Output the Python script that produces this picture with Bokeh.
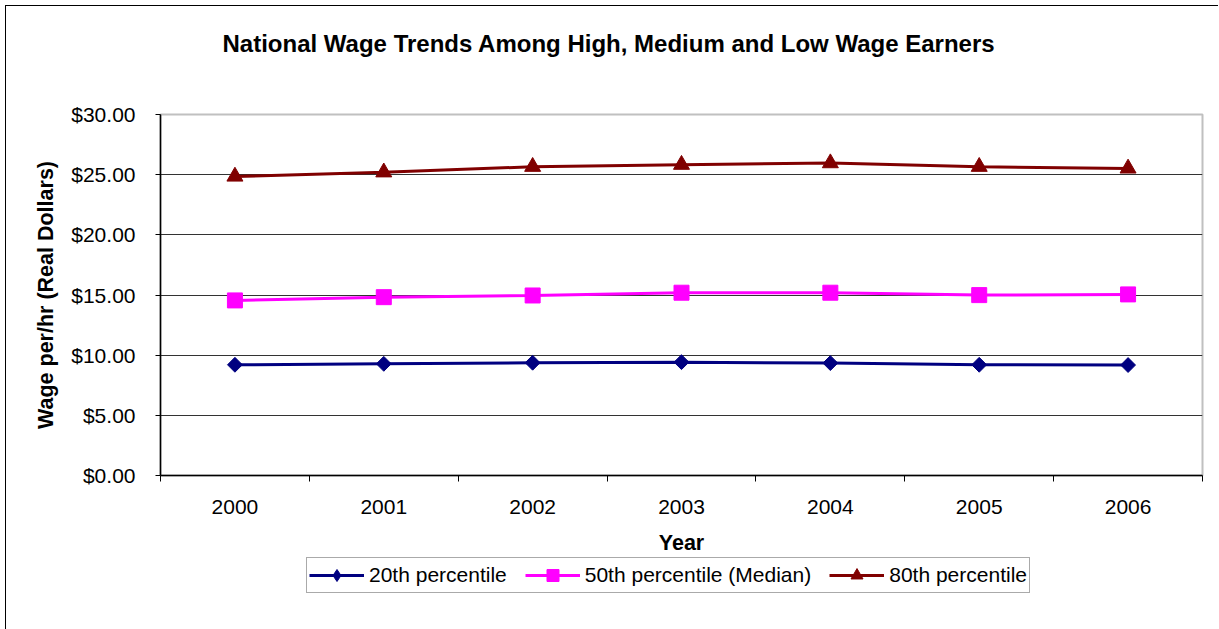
import numpy as np
from bokeh.plotting import figure
from bokeh.layouts import column
from bokeh.models import (FixedTicker, NumeralTickFormatter, Legend, LegendItem, Title)
from bokeh.embed import file_html
from bokeh.resources import INLINE

# Hourly wage by percentile, real dollars
years = ["2000", "2001", "2002", "2003", "2004", "2005", "2006"]
p20 = [9.20, 9.28, 9.37, 9.42, 9.34, 9.20, 9.18]
p50 = [14.55, 14.82, 14.96, 15.19, 15.19, 14.99, 15.05]
p80 = [24.85, 25.20, 25.66, 25.83, 25.96, 25.66, 25.52]
y_ticks = [0, 5, 10, 15, 20, 25, 30]

series_names = ["20th percentile", "50th percentile (Median)", "80th percentile"]
colors = ["#000080", "#FF00FF", "#800000"]
markers = [dict(marker="square", size=10.5, angle=np.pi / 4),   # diamond
           dict(marker="square", size=15, angle=0.0),
           dict(marker="triangle", size=16, angle=0.0)]
legend_markers = ["diamond", "square", "triangle"]

FONT = "Liberation Sans"
W = 1212
H_PLOT = 551
H_LEG = 72

# categories sit in the middle of unit-wide slots
xs = np.arange(len(years)) + 0.5

p = figure(width=W, height=H_PLOT, x_range=(0, len(years)), y_range=(0, 30),
           output_backend="svg", toolbar_location=None,
           min_border_left=154, min_border_right=16,
           min_border_top=108, min_border_bottom=81)
p.background_fill_color = "white"
p.border_fill_color = "white"
p.outline_line_color = "#c0c0c0"
p.outline_line_width = 2

# title sits well above the plot area: an empty spacer title goes between them
p.title.text = ""
p.add_layout(Title(text=" ", text_font_size="2px", standoff=54), "above")
p.add_layout(Title(text="National Wage Trends Among High, Medium and Low Wage Earners",
                   align="left", offset=62, standoff=0,
                   text_font=FONT, text_font_size="24px", text_font_style="bold",
                   text_color="black"), "above")

# x axis: labels at slot centres, tick marks at slot boundaries
p.xaxis.ticker = FixedTicker(ticks=list(xs), minor_ticks=list(range(len(years) + 1)))
p.xaxis.major_label_overrides = {float(x): y for x, y in zip(xs, years)}
p.xaxis.major_tick_out = 0
p.xaxis.major_tick_in = 0
p.xaxis.minor_tick_out = 6
p.xaxis.minor_tick_in = 0
p.xaxis.minor_tick_line_color = "black"
p.xaxis.axis_label = "Year"

p.yaxis.ticker = FixedTicker(ticks=y_ticks)
p.yaxis.formatter = NumeralTickFormatter(format="$0.00")
p.yaxis.major_tick_out = 5
p.yaxis.major_tick_in = 0
p.yaxis.minor_tick_out = 0
p.yaxis.minor_tick_in = 0
p.yaxis.axis_label = "Wage per/hr (Real Dollars)"

for ax in (p.xaxis, p.yaxis):
    ax.axis_line_color = "black"
    ax.axis_line_width = 1.5
    ax.major_tick_line_color = "black"
    ax.major_label_text_font = FONT
    ax.major_label_text_font_size = "21px"
    ax.major_label_text_color = "black"
    ax.axis_label_text_font = FONT
    ax.axis_label_text_font_size = "21.5px"
    ax.axis_label_text_font_style = "bold"
    ax.axis_label_text_color = "black"

p.xaxis.major_label_standoff = 18
p.xaxis.axis_label_standoff = 14
p.yaxis.major_label_standoff = 20
p.yaxis.axis_label_standoff = 10

p.xgrid.visible = False
p.ygrid.ticker = FixedTicker(ticks=[5, 10, 15, 20, 25])
p.ygrid.grid_line_color = "#333333"
p.ygrid.grid_line_width = 1.2

for vals, col, mk in zip([p20, p50, p80], colors, markers):
    p.line(xs, vals, line_color=col, line_width=3)
    p.scatter(xs, vals, marker=mk["marker"], size=mk["size"], angle=mk["angle"],
              fill_color=col, line_color=col)

# legend strip under the chart (its own canvas so the box is not clipped)
lf = figure(width=W, height=H_LEG, x_range=(0, 1), y_range=(100, 101),
            output_backend="svg", toolbar_location=None,
            min_border=0, min_border_left=0, min_border_right=0,
            min_border_top=0, min_border_bottom=0)
lf.axis.visible = False
lf.grid.visible = False
lf.outline_line_color = None
lf.background_fill_color = "white"
lf.border_fill_color = "white"

items = []
for name, vals, col, mk in zip(series_names, [p20, p50, p80], colors, legend_markers):
    ln = lf.line(xs, vals, line_color=col, line_width=3)
    sc = lf.scatter(xs, vals, marker=mk, size=14, fill_color=col, line_color=col)
    items.append(LegendItem(label=name, renderers=[ln, sc]))

legend = Legend(items=items, orientation="horizontal", location=(146, 36))
legend.label_text_font = FONT
legend.label_text_font_size = "21px"
legend.label_text_color = "black"
legend.glyph_width = 55
legend.glyph_height = 30
legend.label_standoff = 5
legend.spacing = 18
legend.padding = 2
legend.margin = 0
legend.border_line_color = "#555555"
legend.border_line_width = 1.5
legend.background_fill_color = "white"
legend.background_fill_alpha = 1
lf.add_layout(legend, "center")

page = column(p, lf, spacing=0)
page.styles = {"margin-left": "5px", "margin-top": "5px",
               "border-left": "1px solid black", "border-top": "1px solid black"}

open("out.html", "w").write(file_html(page, INLINE))
